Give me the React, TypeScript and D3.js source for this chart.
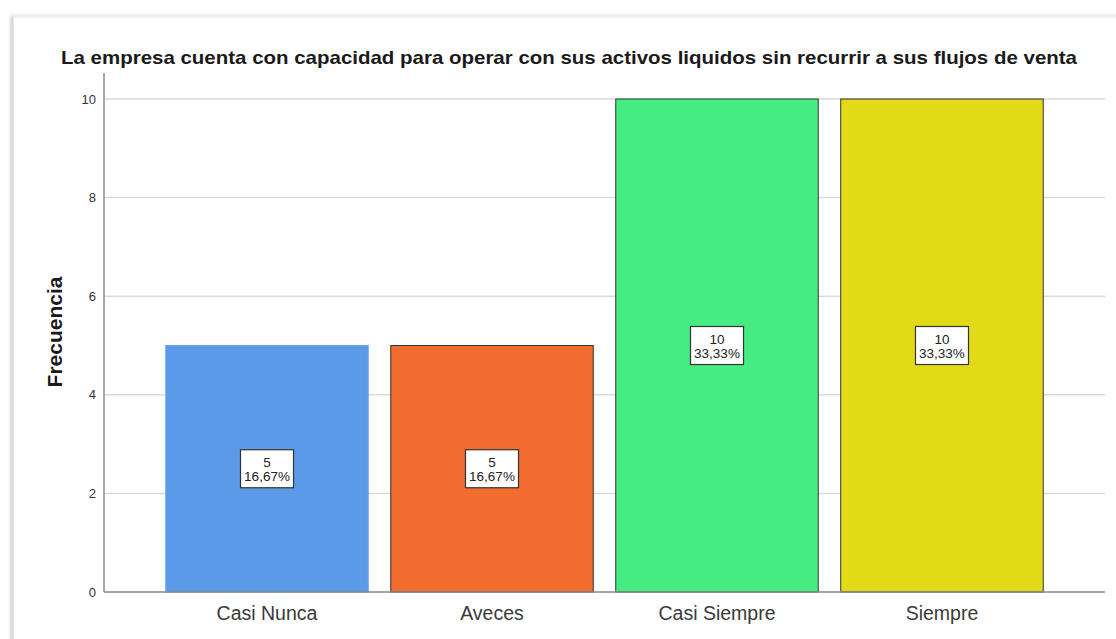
import React from "react";
import * as d3 from "d3";

const categories = ["Casi Nunca", "Aveces", "Casi Siempre", "Siempre"];
const frequencies = [5, 5, 10, 10];
const percents = ["16,67%", "16,67%", "33,33%", "33,33%"];
const colors = ["#5a9ae6", "#f26b2f", "#45ec82", "#e2da16"];
const yTicks = [0, 2, 4, 6, 8, 10];
const title =
  "La empresa cuenta con capacidad para operar con sus activos liquidos sin recurrir a sus flujos de venta";

const W = 1116;
const H = 639;

export default function App() {
  const x = d3
    .scaleBand<string>()
    .domain(categories)
    .range([104, 1105])
    .paddingInner(0.1)
    .paddingOuter(0.2745);
  const y = d3.scaleLinear().domain([0, 10]).range([592, 99]);
  const font = "'Liberation Sans', Arial, sans-serif";

  return (
    <svg
      width={W}
      height={H}
      style={{ position: "absolute", left: 0, top: 0, background: "#fff" }}
      fontFamily={font}
    >
      <defs>
        <filter id="blur" x="-10%" y="-10%" width="120%" height="120%">
          <feGaussianBlur stdDeviation="1.5" />
        </filter>
      </defs>
      {/* panel shadow */}
      <g filter="url(#blur)">
        <line x1={12} y1={16} x2={12} y2={H + 5} stroke="#c8c8c8" strokeWidth={3} />
        <line x1={12} y1={16} x2={W + 5} y2={16} stroke="#e6e6e6" strokeWidth={3} />
      </g>
      <rect x={14} y={18} width={W} height={H} fill="#fff" />

      <text
        x={569}
        y={64}
        textAnchor="middle"
        fontSize={19}
        fontWeight="bold"
        fill="#1a1a1a"
        textLength={1016}
        lengthAdjust="spacingAndGlyphs"
      >
        {title}
      </text>

      {/* gridlines */}
      {yTicks
        .filter((t) => t > 0)
        .map((t) => (
          <line
            key={"g" + t}
            x1={104}
            x2={1105}
            y1={y(t)}
            y2={y(t)}
            stroke="#d9d9d9"
            strokeWidth={1.5}
          />
        ))}

      {/* tick labels */}
      {yTicks.map((t) => (
        <text
          key={"t" + t}
          x={96}
          y={y(t) + 4.5}
          textAnchor="end"
          fontSize={13}
          fill="#333"
        >
          {t}
        </text>
      ))}

      <text
        transform={`translate(62,${332}) rotate(-90)`}
        textAnchor="middle"
        fontSize={21}
        fontWeight="bold"
        fill="#1a1a1a"
      >
        Frecuencia
      </text>

      {/* bars */}
      {categories.map((c, i) => (
        <rect
          key={"b" + c}
          x={x(c)!}
          y={y(frequencies[i])}
          width={x.bandwidth()}
          height={y(0) - y(frequencies[i])}
          fill={colors[i]}
          stroke={i === 0 ? "#6aa4ea" : "#333"}
          strokeWidth={1}
        />
      ))}

      {/* axes */}
      <line x1={104} x2={104} y1={73} y2={592} stroke="#888" strokeWidth={1.5} />
      <line x1={104} x2={1105} y1={592} y2={592} stroke="#888" strokeWidth={1.5} />

      {/* category labels */}
      {categories.map((c) => (
        <text
          key={"c" + c}
          x={x(c)! + x.bandwidth() / 2}
          y={620}
          textAnchor="middle"
          fontSize={19.5}
          fill="#3a3a3a"
        >
          {c}
        </text>
      ))}

      {/* data labels */}
      {categories.map((c, i) => {
        const cx = x(c)! + x.bandwidth() / 2;
        const cy = y(frequencies[i] / 2);
        return (
          <g key={"l" + c}>
            <rect
              x={cx - 26.5}
              y={cy - 19}
              width={53}
              height={38}
              fill="#fff"
              stroke="#333"
              strokeWidth={1.2}
            />
            <text x={cx} y={cy - 2} textAnchor="middle" fontSize={13.5} fill="#222">
              {frequencies[i]}
            </text>
            <text x={cx} y={cy + 12} textAnchor="middle" fontSize={13.5} fill="#222">
              {percents[i]}
            </text>
          </g>
        );
      })}
    </svg>
  );
}
